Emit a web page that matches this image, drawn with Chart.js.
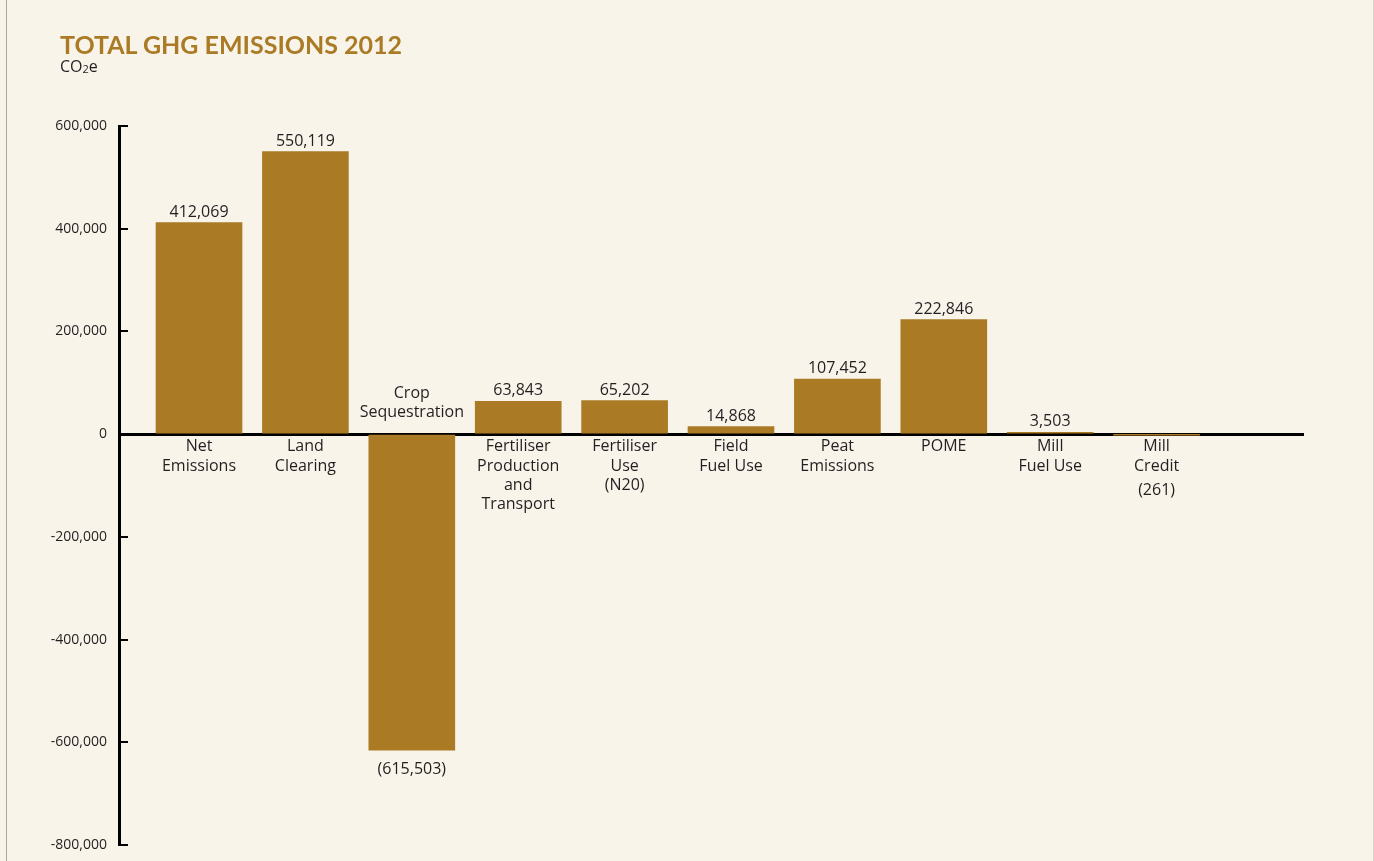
<!DOCTYPE html>
<html>
<head>
<meta charset="utf-8">
<title>Total GHG Emissions 2012</title>
<script src="https://cdn.jsdelivr.net/npm/chart.js@4.4.0/dist/chart.umd.min.js"></script>
<style>
    html, body { margin: 0; padding: 0; background: #f8f4ea; overflow: hidden; }
    #wrap { position: relative; width: 1374px; height: 861px; }
    /* page edges */
    #wrap::before, #wrap::after {
        content: ''; position: absolute; top: 0; bottom: 0; width: 1px;
    }
    #wrap::before { left: 6px; background: #aaa79f; }
    #wrap::after { right: 0; background: #d9d5cc; }
    .heading { position: absolute; left: 60px; top: 32px; }
    .heading h1 {
        margin: 0;
        font: bold 25px/25px 'Lato', sans-serif;
        color: #ab7a25;
    }
    .heading .unit {
        font: 16px/18px 'Open Sans', sans-serif;
        color: #231f20;
    }
    .heading .unit sub { font-size: 11px; vertical-align: -1px; }
</style>
</head>
<body>
<div id="wrap">
    <div class="heading">
        <h1>TOTAL GHG EMISSIONS 2012</h1>
        <div class="unit">CO<sub>2</sub>e</div>
    </div>
    <canvas id="ghgChart"></canvas>
</div>
<script>
// Emission sources (one entry per label line)
const categories = [
    ['Net', 'Emissions'],
    ['Land', 'Clearing'],
    ['Crop', 'Sequestration'],
    ['Fertiliser', 'Production', 'and', 'Transport'],
    ['Fertiliser', 'Use', '(N20)'],
    ['Field', 'Fuel Use'],
    ['Peat', 'Emissions'],
    ['POME'],
    ['Mill', 'Fuel Use'],
    ['Mill', 'Credit']
];

// tonnes CO2e
const emissions = [412069, 550119, -615503, 63843, 65202, 14868, 107452, 222846, 3503, -261];

const yTicks = [-800000, -600000, -400000, -200000, 0, 200000, 400000, 600000];

const BAR_COLOR = '#ab7a25';
const TEXT_COLOR = '#231f20';
const LABEL_FONT = { family: 'Open Sans', size: 16 };

// Big negative bars would cover their name under the zero line, so it goes above
function nameAbove(i) {
    return emissions[i] < -100000;
}

// Negative numbers shown in brackets, accounting style
function formatValue(v) {
    const s = Math.abs(v).toLocaleString('en-US');
    return v < 0 ? '(' + s + ')' : s;
}

// Value labels on the bar ends, plus names that sit above the zero line
const valueLabels = {
    id: 'valueLabels',
    afterDraw(chart) {
        const ctx = chart.ctx;
        const meta = chart.getDatasetMeta(0);
        const zeroY = chart.scales.y.getPixelForValue(0);
        const lineH = LABEL_FONT.size * 1.2;

        ctx.save();
        ctx.font = LABEL_FONT.size + 'px "' + LABEL_FONT.family + '"';
        ctx.fillStyle = TEXT_COLOR;
        ctx.textAlign = 'center';

        meta.data.forEach((bar, i) => {
            const v = emissions[i];
            const text = formatValue(v);
            if (v >= 0) {
                ctx.textBaseline = 'alphabetic';
                ctx.fillText(text, bar.x, bar.y - 6);
            } else {
                // below the bar end, or below the name if the bar is tiny
                const nameBlock = nameAbove(i) ? 0 : 3 + categories[i].length * lineH;
                ctx.textBaseline = 'top';
                ctx.fillText(text, bar.x, Math.max(bar.y + 11, zeroY + nameBlock + 7));
            }

            if (nameAbove(i)) {
                const lines = categories[i];
                ctx.textBaseline = 'alphabetic';
                lines.forEach((line, k) => {
                    ctx.fillText(line, bar.x, zeroY - 17 - (lines.length - 1 - k) * 19);
                });
            }
        });
        ctx.restore();
    }
};

let ghgChart = null;

window.addEventListener('load', () => {
    const ctx = document.getElementById('ghgChart').getContext('2d');

    ghgChart = new Chart(ctx, {
        type: 'bar',
        data: {
            datasets: [{
                data: emissions.map((v, i) => ({ x: i, y: v })),
                backgroundColor: BAR_COLOR,
                borderWidth: 0,
                barThickness: 86
            }]
        },
        options: {
            responsive: true,
            maintainAspectRatio: false,
            animation: false,
            layout: {
                padding: { top: 126, left: 0, right: 71, bottom: 16 }
            },
            plugins: {
                legend: { display: false },
                tooltip: { enabled: false }
            },
            scales: {
                x: {
                    type: 'linear',
                    position: { y: 0 },
                    offset: false,
                    min: -0.752,
                    max: 10.376,
                    bounds: 'data',
                    z: 1,
                    afterBuildTicks: scale => {
                        scale.ticks = categories.map((c, i) => ({ value: i }));
                    },
                    afterFit: scale => {
                        scale.paddingLeft = 0;
                        scale.paddingRight = 0;
                    },
                    grid: { display: false, drawTicks: false, offset: false },
                    border: { display: true, color: '#000', width: 3 },
                    ticks: {
                        autoSkip: false,
                        maxRotation: 0,
                        minRotation: 0,
                        padding: 3,
                        color: TEXT_COLOR,
                        font: LABEL_FONT,
                        callback: value => nameAbove(value) ? '' : categories[value]
                    }
                },
                y: {
                    min: -800000,
                    max: 600000,
                    z: 1,
                    afterBuildTicks: scale => {
                        scale.ticks = yTicks.map(v => ({ value: v }));
                    },
                    afterFit: scale => {
                        scale.width = 119;
                        scale.paddingTop = 0;
                        scale.paddingBottom = 0;
                    },
                    grid: {
                        drawOnChartArea: false,
                        drawTicks: true,
                        tickLength: -9,
                        color: '#000',
                        lineWidth: 2
                    },
                    border: { color: '#000', width: 3 },
                    ticks: {
                        padding: 21,
                        color: TEXT_COLOR,
                        font: { family: 'Open Sans', size: 14 },
                        callback: v => v.toLocaleString('en-US')
                    }
                }
            }
        },
        plugins: [valueLabels]
    });
});
</script>
</body>
</html>
